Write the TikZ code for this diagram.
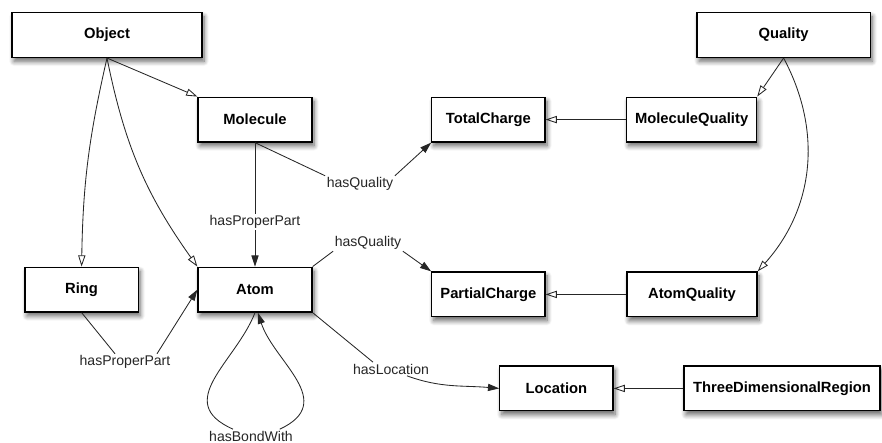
\documentclass[tikz,border=0pt]{standalone}
\usepackage{fontspec}
\setmainfont{Liberation Sans}
\usetikzlibrary{arrows.meta,shadows.blur}

\begin{document}
\begin{tikzpicture}[
	box/.style = {draw, line width=0.9pt, fill=white, minimum height=1.12cm,
		font=\fontsize{10.5}{12}\selectfont\bfseries,
		blur shadow={shadow xshift=0.5mm, shadow yshift=-1mm, shadow blur steps=8, shadow blur radius=1.2mm, shadow opacity=60}},
	lbl/.style = {fill=white, inner sep=1pt, font=\fontsize{10}{12}\selectfont, text=black!85},
	plain/.style = {line width=0.6pt, draw=black!85},
	isa/.style = {plain, -{Triangle[open, length=2.8mm, width=1.8mm]}},
	rel/.style = {plain, -{Triangle[length=2.8mm, width=1.8mm]}}]
	
	% Page frame
	\useasboundingbox (0,0) rectangle (22.05,11.05);
	
	% Classes
	\node[box, minimum width=4.75cm] (object) at (2.675,10.175) {Object};
	\node[box, minimum width=4.33cm] (quality) at (19.59,10.175) {Quality};
	\node[box, minimum width=2.85cm] (molecule) at (6.375,8.06) {Molecule};
	\node[box, minimum width=2.83cm] (totalcharge) at (12.21,8.06) {TotalCharge};
	\node[box, minimum width=3.25cm] (moleculequality) at (17.29,8.06) {MoleculeQuality};
	\node[box, minimum width=2.83cm] (ring) at (2.04,3.81) {Ring};
	\node[box, minimum width=2.85cm] (atom) at (6.375,3.81) {Atom};
	\node[box, minimum width=2.83cm] (partialcharge) at (12.21,3.69) {PartialCharge};
	\node[box, minimum width=3.25cm] (atomquality) at (17.3,3.69) {AtomQuality};
	\node[box, minimum width=2.83cm] (location) at (13.91,1.34) {Location};
	\node[box, minimum width=4.9cm] (region) at (19.55,1.34) {ThreeDimensionalRegion};
	
	% Relation labels
	\node[lbl] (partmol) at (6.375,5.5) {hasProperPart};
	\node[lbl] (qualmol) at (9.0,6.45) {hasQuality};
	\node[lbl] (qualatom) at (9.2,4.975) {hasQuality};
	\node[lbl] (partring) at (3.125,2.0) {hasProperPart};
	\node[lbl] (bond) at (6.275,0.15) {hasBondWith};
	\node[lbl] (loc) at (9.775,1.825) {hasLocation};
	
	% Subclass links
	\draw[isa] (object.south) -- (molecule.north west);
	\draw[isa] (object.south) to[bend right=6] (ring.north);
	\draw[isa] (object.south) to[bend right=12] (atom.north west);
	\draw[isa] (quality.south) -- (moleculequality.north east);
	\draw[isa] (quality.south) to[bend left=35] (atomquality.north east);
	\draw[isa] (moleculequality) -- (totalcharge);
	\draw[isa] (atomquality) -- (partialcharge);
	\draw[isa] (region) -- (location);
	
	% Properties
	\draw[rel] (molecule.south) -- (partmol) -- (atom.north);
	\draw[plain] (molecule.south) -- (qualmol.north west);
	\draw[rel] (qualmol.north east) -- (totalcharge.south west);
	\draw[plain] (atom.north east) -- (qualatom.south west);
	\draw[rel] (qualatom.south east) -- (partialcharge.north west);
	\draw[plain] (ring.south) -- ([xshift=-0.25cm]partring.north);
	\draw[rel] ([xshift=0.8cm]partring.north) -- (atom.west);
	\draw[plain] (atom.south east) -- ([xshift=-0.45cm]loc.north);
	\draw[rel] ([xshift=0.4cm]loc.south) to[out=-20, in=175] (location.west);
	
	% Bond loop
	\draw[plain] (atom.south) .. controls (5.9,2.0) and (4.3,1.0) .. ([xshift=-0.45cm]bond.north);
	\draw[rel] ([xshift=0.72cm]bond.north) .. controls (8.45,1.0) and (6.85,2.0) .. (atom.277);
	
\end{tikzpicture}
\end{document}
